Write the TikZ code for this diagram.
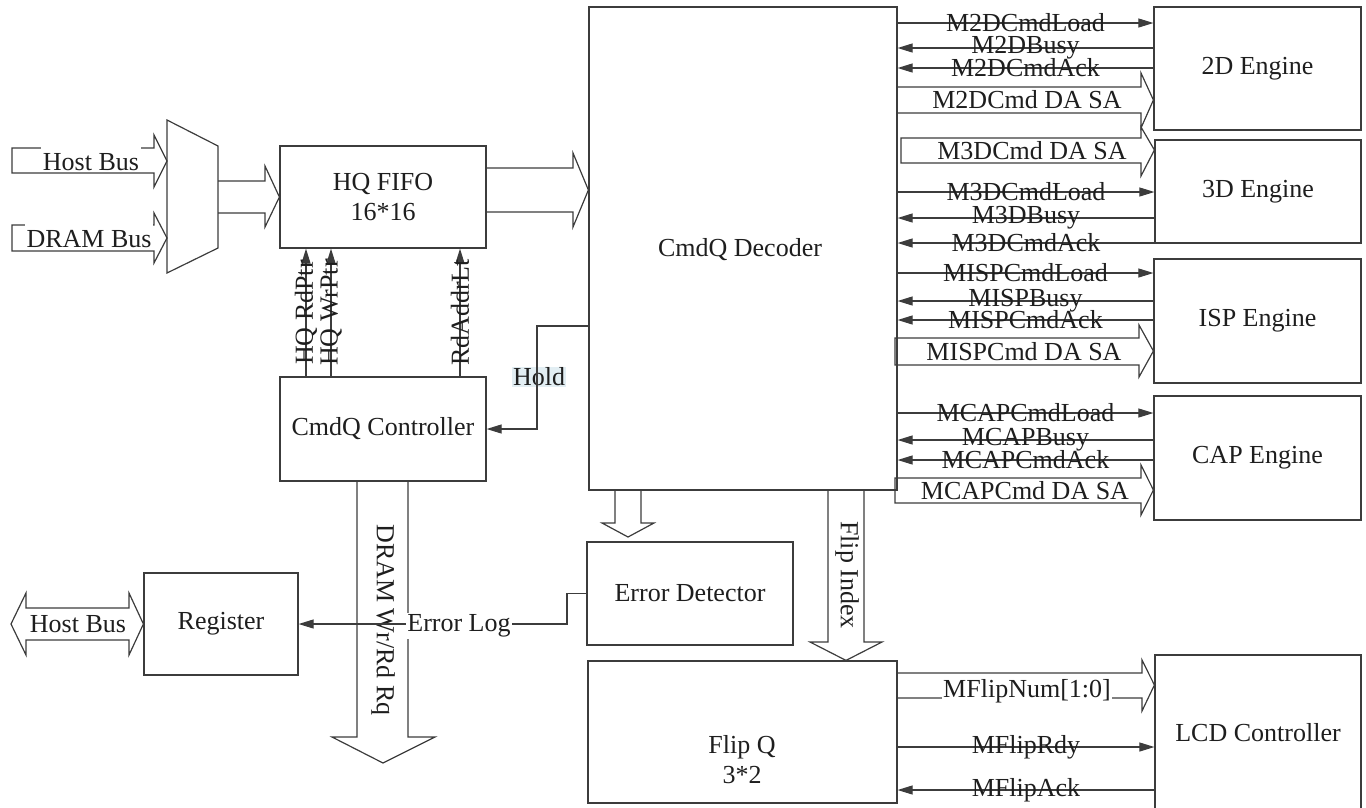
\documentclass[tikz,border=0pt]{standalone}
\usepackage{fontspec}
\setmainfont{Liberation Serif}
\usetikzlibrary{arrows.meta}
\definecolor{holdc}{RGB}{226,238,243}
\definecolor{linec}{RGB}{60,60,60}
\definecolor{textc}{RGB}{30,30,30}
\begin{document}
\begin{tikzpicture}[x=1pt,y=-1pt,
  every node/.style={font=\fontsize{26}{30}\selectfont, text=textc},
  box/.style={draw=linec, line width=1.2pt, inner sep=0pt},
  sig/.style={draw=linec, line width=1.1pt, -{Triangle[length=15pt,width=9pt]}},
  bus/.style={draw=linec, line width=1.2pt},
  lbl/.style={inner sep=0pt},
  wlbl/.style={fill=white, inner xsep=2pt, inner ysep=0pt, anchor=base, text height=24pt, text depth=0pt},
]
\useasboundingbox (0,0) rectangle (1366,807);

% ---------- boxes ----------
\node[box, minimum width=308pt, minimum height=483pt] (dec) at (743,248.5) {};
\node (dectxt) at (740,250) {CmdQ Decoder};
\node[box, minimum width=206pt, minimum height=102pt, align=center] (fifo) at (383,197) {HQ FIFO\\16*16};
\node[box, minimum width=206pt, minimum height=104pt] (ctrl) at (383,429) {CmdQ Controller};
\node[box, minimum width=154pt, minimum height=102pt] (reg) at (221,624) {Register};
\node[box, minimum width=206pt, minimum height=103pt] (ed) at (690,593.5) {Error Detector};
\node[box, minimum width=309pt, minimum height=142pt] (fq) at (742.5,732) {};
\node[align=center] (fqtxt) at (742,760) {Flip Q\\3*2};
\node[box, minimum width=207pt, minimum height=123pt] (e2d) at (1257.5,68.5) {2D Engine};
\node[box, minimum width=206pt, minimum height=103pt] (e3d) at (1258,191.5) {3D Engine};
\node[box, minimum width=207pt, minimum height=124pt] (eisp) at (1257.5,321) {ISP Engine};
\node[box, minimum width=207pt, minimum height=124pt] (ecap) at (1257.5,458) {CAP Engine};
\node[box, minimum width=206pt, minimum height=155pt] (lcd) at (1258,732.5) {LCD Controller};

% ---------- mux ----------
\draw[box] (167,120) -- (218,146) -- (218,248) -- (167,273) -- cycle;
\coordinate (muxin1) at (167,161);
\coordinate (muxin2) at (167,238);

% ---------- input buses ----------
\draw[bus] (12,148) -- (154,148) -- (154,135) -- (muxin1) -- (154,187) -- (154,173) -- (12,173) -- cycle;
\node[wlbl] (hb1) at (91,170) {Host Bus};
\draw[bus] (12,225) -- (154,225) -- (154,213) -- (muxin2) -- (154,263) -- (154,251) -- (12,251) -- cycle;
\node[wlbl] (db1) at (89,247) {DRAM Bus};

% mux -> fifo
\draw[bus] (218,181) -- (265,181) -- (265,166) -- (fifo.west) -- (265,227) -- (265,213) -- (218,213);
% fifo -> decoder
\draw[bus] (fifo.east |- 0,168) -- (573,168) -- (573,153) -- (dec.west |- 0,190) -- (573,227) -- (573,212) -- (fifo.east |- 0,212);

% ---------- pointer signals ----------
\draw[sig] (ctrl.north -| 306,0) -- (fifo.south -| 306,0) node[lbl, midway, rotate=90] {HQ RdPtr};
\draw[sig] (ctrl.north -| 331,0) -- (fifo.south -| 331,0) node[lbl, midway, rotate=90] {HQ WrPtr};
\draw[sig] (ctrl.north -| 460,0) -- (fifo.south -| 460,0) node[lbl, midway, rotate=90] {RdAddrLt};

% ---------- hold ----------
\node[fill=holdc, inner xsep=1pt, inner ysep=1pt] (hold) at (539,377) {Hold};
\draw[sig] (dec.west |- 0,326) -- (537,326) -- (537,429) -- (ctrl.east);

% ---------- DRAM Wr/Rd Rq ----------
\draw[bus] (ctrl.south -| 357,0) -- (357,737) -- (332,737) -- (383,763) -- (435,737) -- (408,737) -- (ctrl.south -| 408,0);
\node[lbl, rotate=-90] (dramrq) at (383,620) {DRAM Wr/Rd Rq};

% ---------- host bus (register) ----------
\draw[bus] (11,624) -- (26,593) -- (26,608) -- (129,608) -- (129,593) -- (reg.west) -- (129,655) -- (129,640) -- (26,640) -- (26,655) -- cycle;
\node[lbl] (hb2) at (78,624) {Host Bus};

% ---------- error log ----------
\draw[sig] (ed.west) -- (567,593.5) -- (567,624) -- (reg.east);
\node[fill=white, inner xsep=1pt, inner ysep=2pt] (elog) at (459,626) {Error Log};

% ---------- decoder -> error detector ----------
\draw[bus] (dec.south -| 615,0) -- (615,523) -- (602,523) -- (628,537) -- (654,523) -- (641,523) -- (dec.south -| 641,0);

% ---------- flip index ----------
\draw[bus] (dec.south -| 828,0) -- (828,642) -- (810,642) -- (fq.north -| 846,0) -- (882,642) -- (864,642) -- (dec.south -| 864,0);
\node[lbl, rotate=-90] (fidx) at (847,575) {Flip Index};

% ---------- 2D engine ----------
\draw[sig] (dec.east |- 0,23) -- (e2d.west |- 0,23) node[lbl, midway] {M2DCmdLoad};
\draw[sig] (e2d.west |- 0,48) -- (dec.east |- 0,48) node[lbl, midway] {M2DBusy};
\draw[sig] (e2d.west |- 0,68) -- (dec.east |- 0,68) node[lbl, midway] {M2DCmdAck};
\draw[bus] (dec.east |- 0,87) -- (1141,87) -- (1141,73) -- (e2d.west |- 0,100) -- (1141,128) -- (1141,113) -- (dec.east |- 0,113);
\node[lbl] (m2dbus) at (1027,100) {M2DCmd DA SA};

% ---------- 3D engine ----------
\draw[bus] (901,138) -- (1141,138) -- (1141,127) -- (e3d.west |- 0,150) -- (1141,176) -- (1141,163) -- (901,163) -- cycle;
\node[lbl] (m3dbus) at (1032,151) {M3DCmd DA SA};
\draw[sig] (dec.east |- 0,192) -- (e3d.west |- 0,192) node[lbl, midway] {M3DCmdLoad};
\draw[sig] (e3d.west |- 0,218) -- (dec.east |- 0,218) node[lbl, midway] {M3DBusy};
\draw[sig] (e3d.west |- 0,243) -- (dec.east |- 0,243) node[lbl, midway] {M3DCmdAck};

% ---------- ISP engine ----------
\draw[sig] (dec.east |- 0,273) -- (eisp.west |- 0,273) node[lbl, midway] {MISPCmdLoad};
\draw[sig] (eisp.west |- 0,301) -- (dec.east |- 0,301) node[lbl, midway] {MISPBusy};
\draw[sig] (eisp.west |- 0,320) -- (dec.east |- 0,320) node[lbl, midway] {MISPCmdAck};
\draw[bus] (895,338) -- (1139,338) -- (1139,325) -- (eisp.west |- 0,351) -- (1139,377) -- (1139,365) -- (895,365) -- cycle;
\node[lbl] (mispbus) at (1024,352) {MISPCmd DA SA};

% ---------- CAP engine ----------
\draw[sig] (dec.east |- 0,413) -- (ecap.west |- 0,413) node[lbl, midway] {MCAPCmdLoad};
\draw[sig] (ecap.west |- 0,440) -- (dec.east |- 0,440) node[lbl, midway] {MCAPBusy};
\draw[sig] (ecap.west |- 0,460) -- (dec.east |- 0,460) node[lbl, midway] {MCAPCmdAck};
\draw[bus] (895,478) -- (1141,478) -- (1141,465) -- (ecap.west |- 0,490) -- (1141,515) -- (1141,503) -- (895,503) -- cycle;
\node[lbl] (mcapbus) at (1025,491) {MCAPCmd DA SA};

% ---------- LCD controller ----------
\draw[bus] (fq.east |- 0,673) -- (1142,673) -- (1142,660) -- (lcd.west |- 0,685) -- (1142,711) -- (1142,698) -- (fq.east |- 0,698);
\node[fill=white, inner xsep=1pt, inner ysep=1pt] (mfn) at (1027,691) {MFlipNum[1:0]};
\draw[sig] (fq.east |- 0,747) -- (lcd.west |- 0,747) node[lbl, midway] {MFlipRdy};
\draw[sig] (lcd.west |- 0,790) -- (fq.east |- 0,790) node[lbl, midway] {MFlipAck};
\end{tikzpicture}
\end{document}
